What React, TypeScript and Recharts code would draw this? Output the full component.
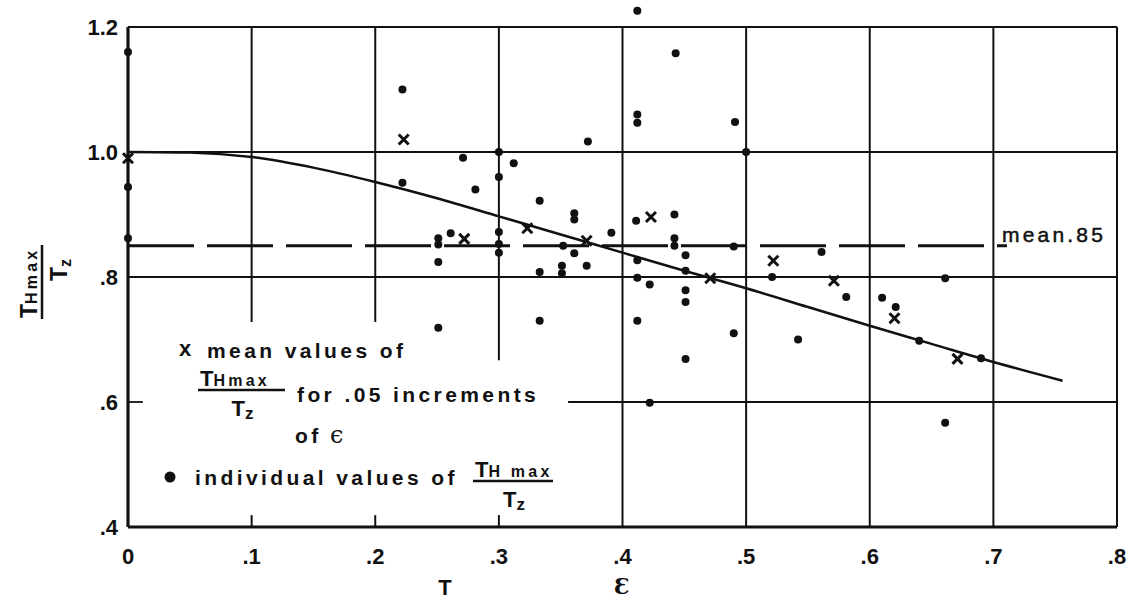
import { ComposedChart, Line, ReferenceLine, Scatter, XAxis, YAxis } from "recharts";

const epsTicks = [0, 0.1, 0.2, 0.3, 0.4, 0.5, 0.6, 0.7, 0.8];
const ratioTicks = [0.4, 0.6, 0.8, 1.0, 1.2];

// individual values of THmax / Tz
const pointEps = [
  0, 0, 0, 0.222, 0.222, 0.271, 0.3, 0.312, 0.3, 0.281, 0.333, 0.361, 0.361,
  0.251, 0.251, 0.261, 0.3, 0.3, 0.3, 0.251, 0.352, 0.361, 0.371, 0.333, 0.351,
  0.351, 0.251, 0.333, 0.372, 0.391, 0.412, 0.443, 0.412, 0.412, 0.491, 0.5,
  0.411, 0.442, 0.442, 0.442, 0.49, 0.451, 0.412, 0.451, 0.412, 0.422, 0.451,
  0.451, 0.412, 0.49, 0.451, 0.422, 0.521, 0.561, 0.581, 0.542, 0.61, 0.621,
  0.64, 0.661, 0.69, 0.661,
];
const pointRatio = [
  1.16, 0.944, 0.862, 1.1, 0.951, 0.991, 1.0, 0.982, 0.96, 0.94, 0.922, 0.902,
  0.892, 0.862, 0.852, 0.87, 0.872, 0.853, 0.839, 0.824, 0.85, 0.838, 0.818,
  0.808, 0.818, 0.806, 0.719, 0.73, 1.017, 0.871, 1.226, 1.158, 1.06, 1.047,
  1.048, 1.0, 0.89, 0.9, 0.862, 0.85, 0.849, 0.835, 0.827, 0.81, 0.799, 0.788,
  0.779, 0.76, 0.73, 0.71, 0.669, 0.599, 0.8, 0.84, 0.768, 0.7, 0.767, 0.752,
  0.698, 0.798, 0.67, 0.567,
];

// mean values for .05 increments of epsilon
const meanEps = [0, 0.223, 0.272, 0.323, 0.371, 0.423, 0.471, 0.522, 0.571, 0.62, 0.671];
const meanRatio = [0.99, 1.02, 0.861, 0.878, 0.858, 0.896, 0.798, 0.826, 0.794, 0.734, 0.669];

// fitted curve
const curveEps = [0, 0.05, 0.1, 0.15, 0.2, 0.25, 0.3, 0.35, 0.4, 0.45, 0.5, 0.55, 0.6, 0.65, 0.7, 0.756];
const curveRatio = [1.0, 0.999, 0.992, 0.975, 0.952, 0.926, 0.897, 0.868, 0.839, 0.81, 0.782, 0.752, 0.722, 0.693, 0.664, 0.634];

const meanLevel = 0.85;

const dots = pointEps.map((eps, i) => ({ eps, ratio: pointRatio[i] }));
const means = meanEps.map((eps, i) => ({ eps, ratio: meanRatio[i] }));
const curve = curveEps.map((eps, i) => ({ eps, ratio: curveRatio[i] }));

const INK = "#111";
const SANS = "'Liberation Sans', Arial, Helvetica, sans-serif";

const fmt = (v: number) => (v === 0 ? "0" : v >= 1 ? v.toFixed(1) : v.toFixed(1).replace(/^0/, ""));

const DotShape = (p: any) => <circle cx={p.cx} cy={p.cy} r={4} fill={INK} />;
const CrossShape = (p: any) => (
  <g stroke={INK} strokeWidth={3}>
    <line x1={p.cx - 5} y1={p.cy - 5} x2={p.cx + 5} y2={p.cy + 5} />
    <line x1={p.cx - 5} y1={p.cy + 5} x2={p.cx + 5} y2={p.cy - 5} />
  </g>
);

const seg = (x1: number, y1: number, x2: number, y2: number) => [
  { x: x1, y: y1 },
  { x: x2, y: y2 },
];

const tickStyle = { fontSize: 22, fontWeight: 700, fill: INK, fontFamily: SANS };
const body = { fontSize: 21, fontWeight: 700, fill: INK, fontFamily: SANS, letterSpacing: 3.4 };

// T_Hmax over T_z
const Frac = ({ x, y, w, gap }: { x: number; y: number; w: number; gap?: boolean }) => (
  <g fill={INK} fontFamily={SANS} fontWeight={700}>
    <text x={x + 2} y={y - 4}>
      <tspan fontSize={22}>T</tspan>
      <tspan fontSize={16} letterSpacing={3.2}>{gap ? "H max" : "Hmax"}</tspan>
    </text>
    <line x1={x} x2={x + w} y1={y} y2={y} stroke={INK} strokeWidth={2.5} />
    <text x={x + w / 2 - 10} y={y + 26} fontSize={22}>
      T<tspan fontSize={17} dy={3}>z</tspan>
    </text>
  </g>
);

export default function App() {
  return (
    <div style={{ position: "absolute", left: 0, top: 0, width: 1128, height: 601, background: "#fff" }}>
      <ComposedChart width={1128} height={601} margin={{ top: 2, right: 11, bottom: 0, left: 0 }}>
        <XAxis
          type="number"
          dataKey="eps"
          domain={[0, 0.8]}
          ticks={epsTicks}
          interval={0}
          tickFormatter={fmt}
          axisLine={false}
          tickLine={false}
          tickSize={0}
          tickMargin={21}
          height={74}
          tick={tickStyle}
        />
        <YAxis
          type="number"
          dataKey="ratio"
          domain={[0.4, 1.24]}
          ticks={[...ratioTicks]}
          interval={0}
          tickFormatter={fmt}
          axisLine={false}
          tickLine={false}
          tickSize={0}
          tickMargin={10}
          width={128}
          tick={tickStyle}
        />

        {/* grid, broken where the legend sits */}
        {[0.4, 0.5, 0.6, 0.7].map((x) => (
          <ReferenceLine key={`v${x}`} segment={seg(x, 0.4, x, 1.2)} stroke={INK} strokeWidth={2} />
        ))}
        <ReferenceLine segment={seg(0.1, 0.728, 0.1, 1.2)} stroke={INK} strokeWidth={2} />
        <ReferenceLine segment={seg(0.2, 0.728, 0.2, 1.2)} stroke={INK} strokeWidth={2} />
        <ReferenceLine segment={seg(0.3, 0.667, 0.3, 1.2)} stroke={INK} strokeWidth={2} />
        {[0.1, 0.2, 0.3].map((x) => (
          <ReferenceLine key={`t${x}`} segment={seg(x, 0.4, x, 0.419)} stroke={INK} strokeWidth={2} />
        ))}
        <ReferenceLine segment={seg(0, 1.0, 0.8, 1.0)} stroke={INK} strokeWidth={2} />
        <ReferenceLine segment={seg(0, 0.8, 0.8, 0.8)} stroke={INK} strokeWidth={1.8} />
        <ReferenceLine segment={seg(0.356, 0.6, 0.8, 0.6)} stroke={INK} strokeWidth={1.8} />
        <ReferenceLine segment={seg(0, 0.6, 0.012, 0.6)} stroke={INK} strokeWidth={1.8} />

        {/* frame */}
        <ReferenceLine segment={seg(0, 1.2, 0.8, 1.2)} stroke={INK} strokeWidth={2} />
        <ReferenceLine segment={seg(0.8, 0.4, 0.8, 1.2)} stroke={INK} strokeWidth={2} />
        <ReferenceLine segment={seg(0, 0.4, 0.8, 0.4)} stroke={INK} strokeWidth={3} />
        <ReferenceLine segment={seg(0, 0.4, 0, 1.2)} stroke={INK} strokeWidth={3.2} />

        {/* overall mean */}
        <ReferenceLine
          segment={seg(0, meanLevel, 0.711, meanLevel)}
          stroke={INK}
          strokeWidth={2.8}
          strokeDasharray="66 13"
        />

        <Line
          data={curve}
          dataKey="ratio"
          type="monotone"
          stroke={INK}
          strokeWidth={2.5}
          dot={false}
          activeDot={false}
          isAnimationActive={false}
        />
        <Scatter data={dots} dataKey="ratio" shape={DotShape} isAnimationActive={false} />
        <Scatter data={means} dataKey="ratio" shape={CrossShape} isAnimationActive={false} />
      </ComposedChart>

      <svg width={1128} height={601} style={{ position: "absolute", left: 0, top: 0, pointerEvents: "none" }}>
        {/* y axis title */}
        <g transform="translate(42,282) rotate(-90)" fill={INK} fontFamily={SANS} fontWeight={700}>
          <text x={-36} y={-5}>
            <tspan fontSize={23}>T</tspan>
            <tspan fontSize={16} letterSpacing={3.2}>Hmax</tspan>
          </text>
          <line x1={-37} x2={37} y1={0} y2={0} stroke={INK} strokeWidth={2.5} />
          <text x={1} y={25} fontSize={23}>
            T<tspan fontSize={16} dy={4}>z</tspan>
          </text>
        </g>

        <text x={1002} y={242} fontSize={21} fill={INK} fontFamily={SANS} letterSpacing={3.2} stroke={INK} strokeWidth={0.5}>
          mean.85
        </text>

        {/* legend */}
        <text x={179} y={356} fontSize={22} fontWeight={700} fill={INK} fontFamily={SANS}>x</text>
        <text x={207} y={358} {...body}>mean values of</text>
        <Frac x={198} y={390} w={87} />
        <text x={297} y={402} {...body}>for .05 increments</text>
        <text x={295} y={443} {...body}>of</text>
        <text x={330} y={443} fontSize={24} fill={INK} fontFamily="'DejaVu Serif', serif">ϵ</text>
        <circle cx={170} cy={477} r={5.5} fill={INK} />
        <text x={195} y={485} {...body}>individual values of</text>
        <Frac x={473} y={481} w={80} gap />

        {/* x axis title */}
        <text x={445} y={595} textAnchor="middle" fontSize={22} fontWeight={700} fill={INK} fontFamily={SANS}>T</text>
        <text x={622} y={594} textAnchor="middle" fontSize={22} fontWeight={700} fill={INK} fontFamily="'DejaVu Serif', serif">Ɛ</text>
      </svg>
    </div>
  );
}
